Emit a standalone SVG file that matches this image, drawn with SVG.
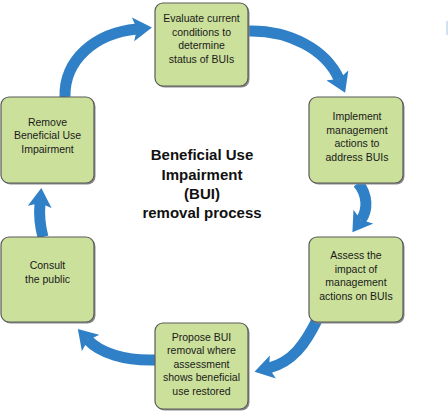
<svg xmlns="http://www.w3.org/2000/svg" width="448" height="411" viewBox="0 0 448 411">
<style>
.box{fill:#cbe09b;stroke:#5a5a5a;stroke-width:1.2}
.sh{fill:#8a8a8a}
.t{font-family:"Liberation Sans",Arial,sans-serif;font-size:10.5px;fill:#1a1a1a;text-anchor:middle}
.title{font-family:"Liberation Sans",Arial,sans-serif;font-size:15px;font-weight:bold;fill:#111;text-anchor:middle}
.arr{fill:none;stroke:#2f80c6;stroke-width:11;marker-end:url(#ah)}
</style>
<defs>
<marker id="ah" markerUnits="userSpaceOnUse" markerWidth="20" markerHeight="24" viewBox="0 0 20 24" refX="4" refY="12" orient="auto">
<path d="M0,0 L19,12 L0,24 L4,12 z" fill="#2f80c6"/>
</marker>
</defs>
<rect x="446" y="21" width="2" height="14" fill="#d3e1f1"/>
<g id="connectors">
<path class="arr" d="M65 97 C 64 60, 95 33, 137 29"/>
<path class="arr" d="M248 31 C 290 30, 326 50, 339 79"/>
<path class="arr" d="M358 183 C 368 195, 368 210, 361 220"/>
<path class="arr" d="M318 318 C 305 345, 292 362, 269 368"/>
<path class="arr" d="M155 360 C 125 361, 100 353, 88 340"/>
<path class="arr" d="M43 237 C 40 226, 39 214, 40 203"/>
</g>
<g id="n1">
<rect class="sh" x="156.5" y="4.5" width="93" height="83" rx="8"/>
<rect class="box" x="155" y="3" width="93" height="83" rx="8"/>
<text class="t" x="201.5" y="22">Evaluate current</text>
<text class="t" x="201.5" y="35.5">conditions to</text>
<text class="t" x="201.5" y="49">determine</text>
<text class="t" x="201.5" y="62.5">status of BUIs</text>
</g>
<g id="n2">
<rect class="sh" x="310.5" y="98.5" width="94" height="86" rx="8"/>
<rect class="box" x="309" y="97" width="94" height="86" rx="8"/>
<text class="t" x="357" y="120">Implement</text>
<text class="t" x="357" y="133.5">management</text>
<text class="t" x="357" y="147">actions to</text>
<text class="t" x="357" y="160.5">address BUIs</text>
</g>
<g id="n3">
<rect class="sh" x="310.5" y="238.5" width="94" height="85" rx="8"/>
<rect class="box" x="309" y="237" width="94" height="85" rx="8"/>
<text class="t" x="356" y="259">Assess the</text>
<text class="t" x="356" y="272.5">impact of</text>
<text class="t" x="356" y="286">management</text>
<text class="t" x="356" y="299.5">actions on BUIs</text>
</g>
<g id="n4">
<rect class="sh" x="156.5" y="324.5" width="93" height="86" rx="8"/>
<rect class="box" x="155" y="323" width="93" height="86" rx="8"/>
<text class="t" x="201.5" y="340.5">Propose BUI</text>
<text class="t" x="201.5" y="354">removal where</text>
<text class="t" x="201.5" y="367.5">assessment</text>
<text class="t" x="201.5" y="381">shows beneficial</text>
<text class="t" x="201.5" y="394.5">use restored</text>
</g>
<g id="n5">
<rect class="sh" x="2.5" y="238.5" width="93" height="85" rx="8"/>
<rect class="box" x="1" y="237" width="93" height="85" rx="8"/>
<text class="t" x="47.5" y="269">Consult</text>
<text class="t" x="47.5" y="282.5">the public</text>
</g>
<g id="n6">
<rect class="sh" x="2.5" y="98.5" width="93" height="86" rx="8"/>
<rect class="box" x="1" y="97" width="93" height="86" rx="8"/>
<text class="t" x="47.5" y="125.5">Remove</text>
<text class="t" x="47.5" y="139">Beneficial Use</text>
<text class="t" x="47.5" y="152.5">Impairment</text>
</g>
<g id="title">
<text class="title" x="202" y="160">Beneficial Use</text>
<text class="title" x="202" y="180">Impairment</text>
<text class="title" x="202" y="199">(BUI)</text>
<text class="title" x="202" y="218">removal process</text>
</g>
</svg>
